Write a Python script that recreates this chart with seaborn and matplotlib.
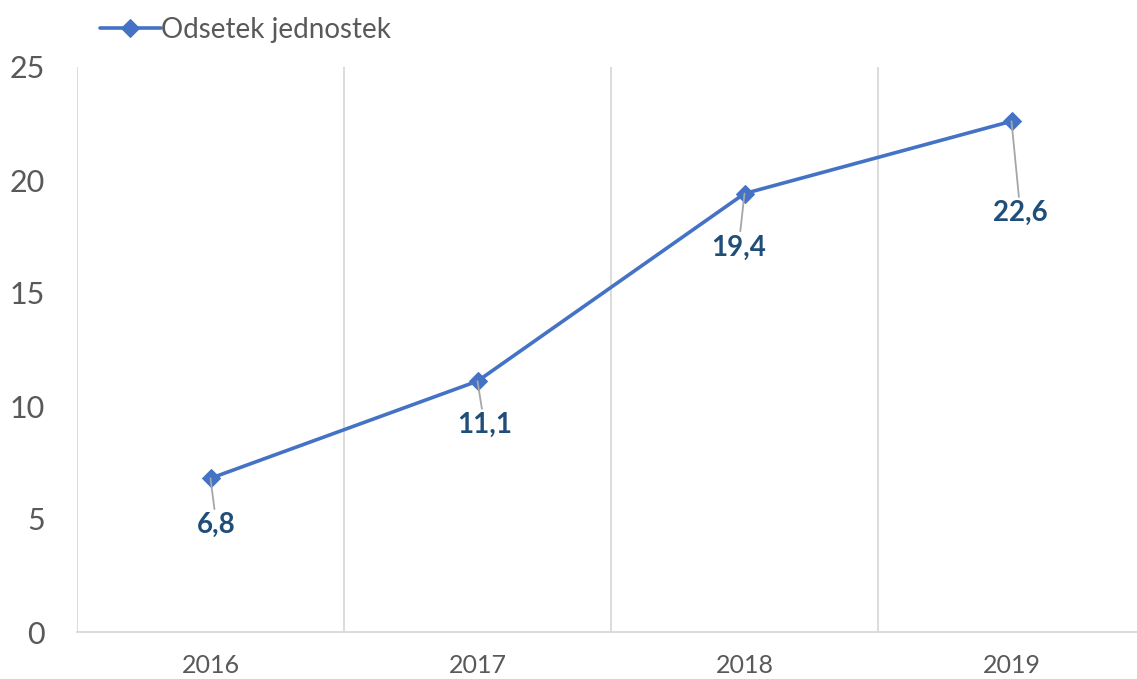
import matplotlib
matplotlib.use("Agg")
import matplotlib.pyplot as plt
import seaborn as sns
import pandas as pd

years = ["2016", "2017", "2018", "2019"]
values = [6.8, 11.1, 19.4, 22.6]
labels = ["6,8", "11,1", "19,4", "22,6"]
series_name = "Odsetek jednostek"
yticks = [0, 5, 10, 15, 20, 25]

sns.set_theme(style="white")
plt.rcParams['font.family'] = ['Lato', 'DejaVu Sans']

df = pd.DataFrame({"year": years, "value": values})

fig = plt.figure(figsize=(11.37, 6.79), dpi=100)
ax = fig.add_axes([77/1137, 47/679, (1145-77)/1137, (632-67)/679])

sns.lineplot(data=df, x="year", y="value", ax=ax, color="#4472C4", lw=2.6,
             marker="D", markersize=9, markeredgecolor="#4472C4",
             label=series_name, legend=False)

ax.set_xlim(-0.5, 3.5)
ax.set_ylim(0, 25)
ax.set_yticks(yticks)
ax.set_yticklabels([str(t) for t in yticks])
ax.set_xlabel("")
ax.set_ylabel("")

for x in [-0.5, 0.5, 1.5, 2.5, 3.5]:
    ax.axvline(x, color="#D9D9D9", lw=1.3, zorder=0)

for s in ["top", "right", "left"]:
    ax.spines[s].set_visible(False)
ax.spines["bottom"].set_color("#D9D9D9")
ax.spines["bottom"].set_linewidth(1.3)

ax.tick_params(axis="y", length=0, pad=23, labelsize=22, labelcolor="#595959")
ax.tick_params(axis="x", length=0, pad=16, labelsize=18, labelcolor="#595959")

offsets = [(6, -47), (7, -44), (-6, -54), (9, -92)]
for i, (v, lab) in enumerate(zip(values, labels)):
    ax.annotate(lab, xy=(i, v), xytext=offsets[i], textcoords="offset pixels",
                ha="center", va="center", fontsize=20, fontweight="bold",
                color="#1F4E79",
                arrowprops=dict(arrowstyle="-", color="#A6A6A6", lw=1.3,
                                shrinkA=0, shrinkB=0))

handles, hl = ax.get_legend_handles_labels()
leg = fig.legend(handles, hl, loc="upper left", bbox_to_anchor=(83/1137, 1.0),
                 frameon=False, fontsize=20, handlelength=2.2, handletextpad=0.0,
                 borderaxespad=0.2)
for t in leg.get_texts():
    t.set_color("#595959")

fig.savefig("out.png", dpi=100)
